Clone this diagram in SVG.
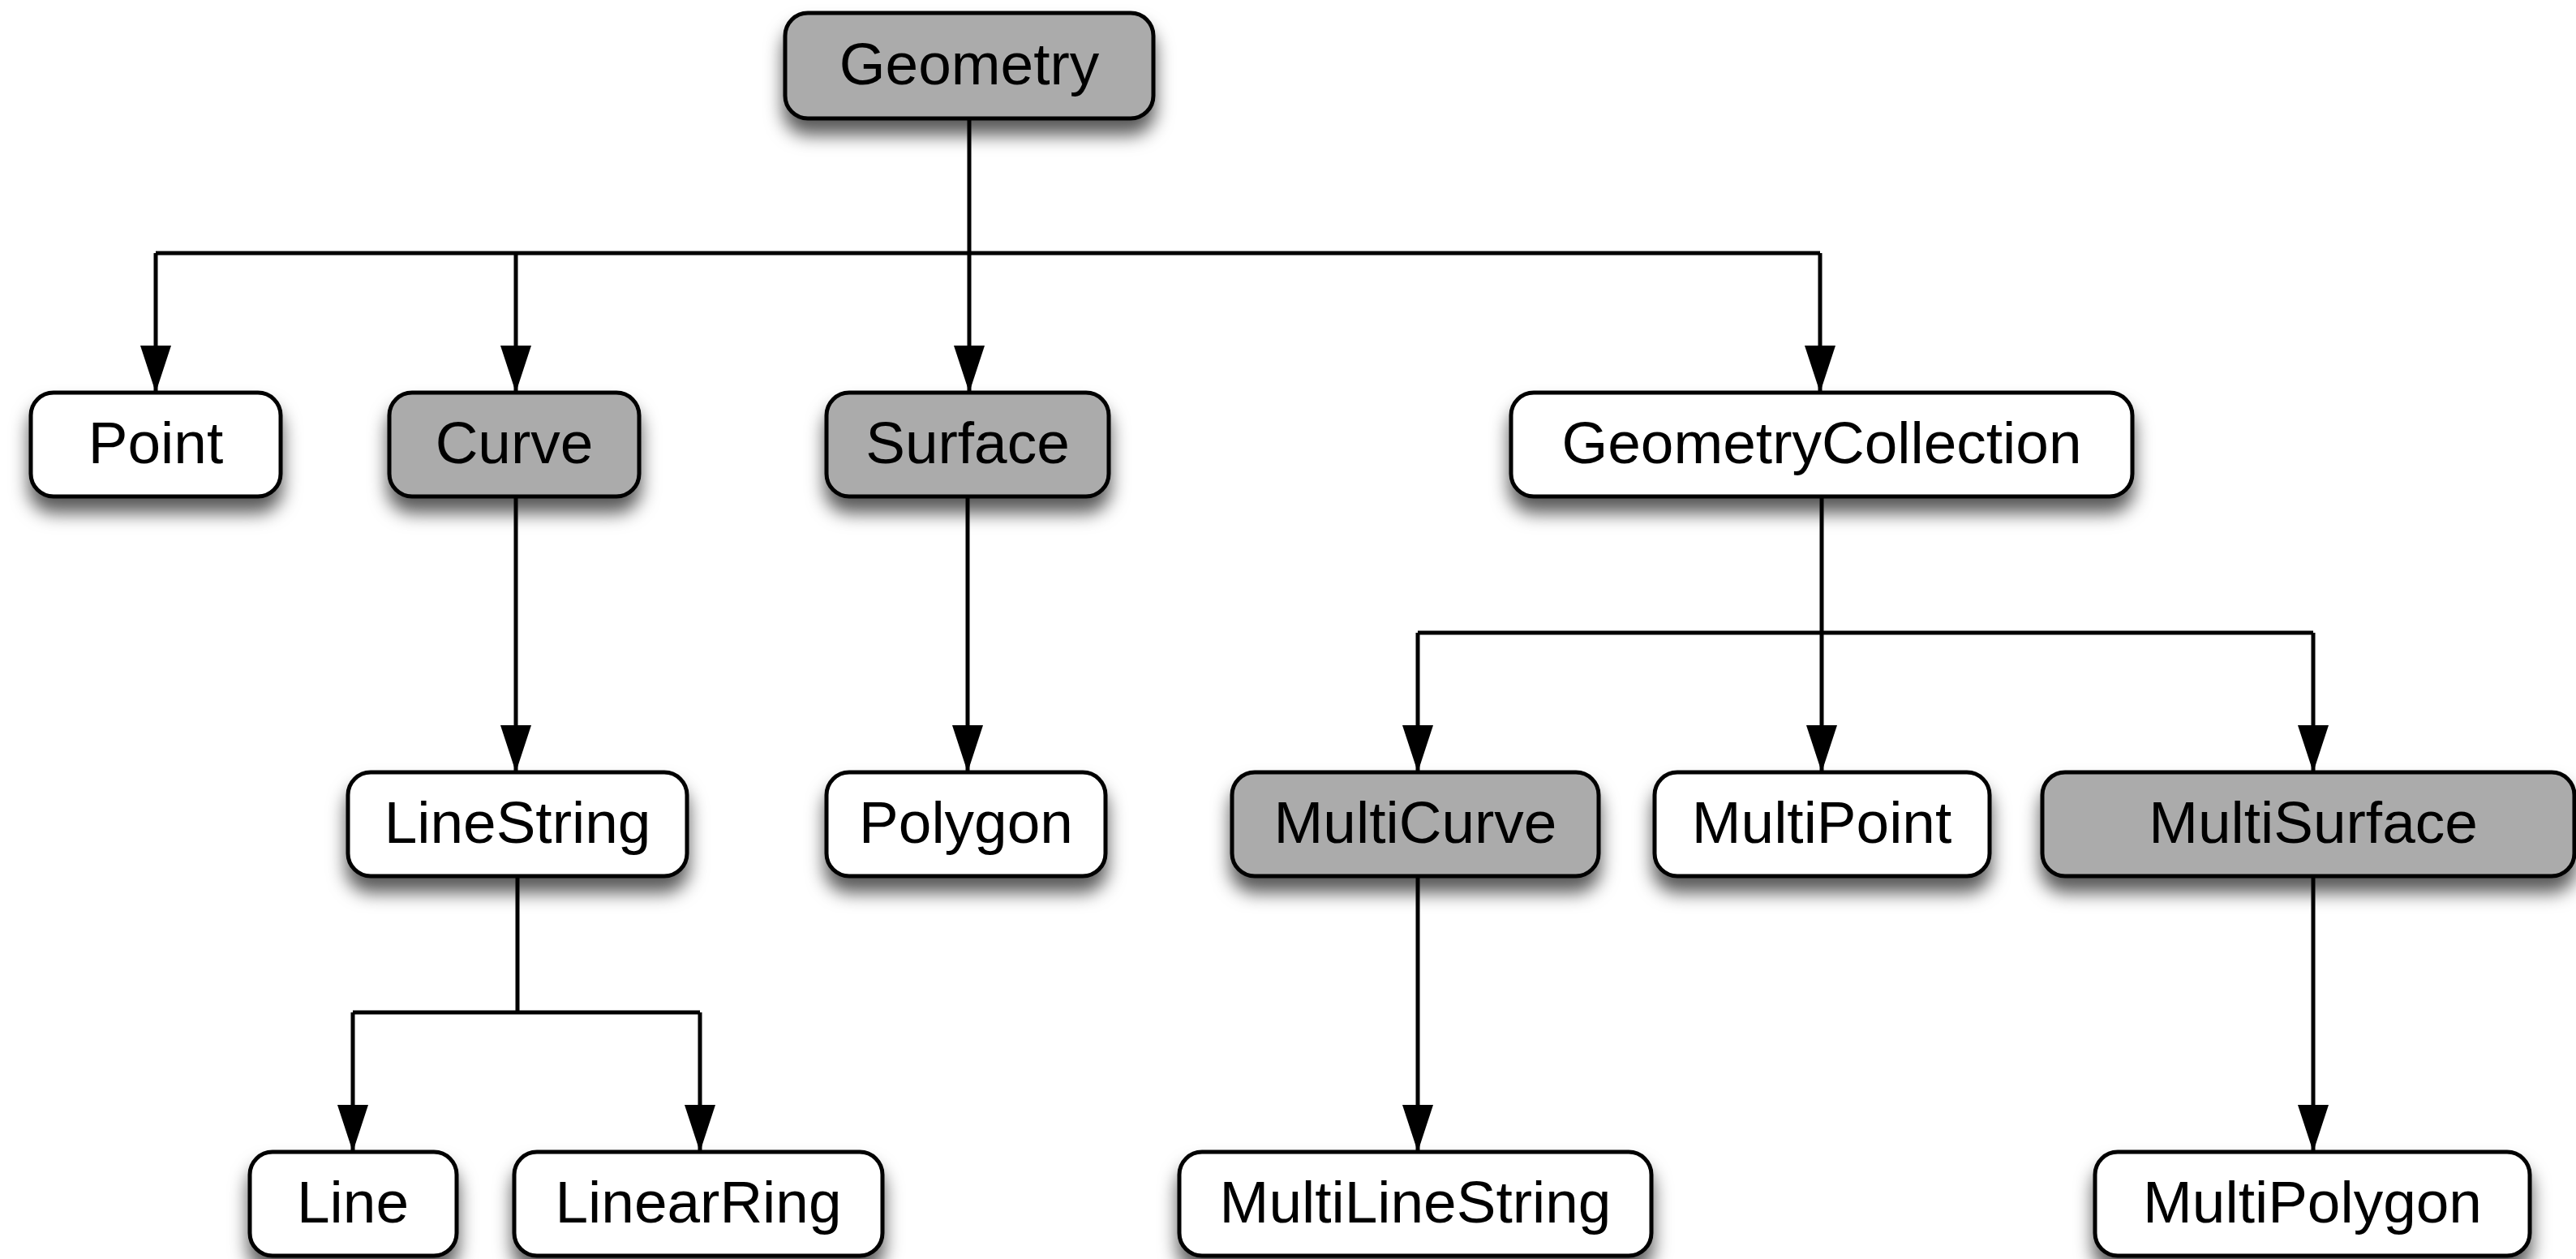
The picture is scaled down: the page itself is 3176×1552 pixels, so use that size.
<svg xmlns="http://www.w3.org/2000/svg" width="3176" height="1552" viewBox="0 0 3176 1552">
<style>
.node rect{stroke:#000;stroke-width:5;filter:url(#sh)}
.abs rect{fill:#ababab}
.con rect{fill:#fff}
.node text{font-family:"Liberation Sans",Arial,sans-serif;font-size:73px;fill:#000;text-anchor:middle}
.edges path{fill:none;stroke:#000;stroke-width:5}
.edges .arr{marker-end:url(#ah)}
</style>
<defs>
<filter id="sh" x="-20%" y="-30%" width="140%" height="200%">
<feDropShadow dx="0" dy="18" stdDeviation="11" flood-color="#000" flood-opacity="0.65"/>
</filter>
<marker id="ah" markerUnits="userSpaceOnUse" viewBox="0 0 58 38" refX="58" refY="19" markerWidth="58" markerHeight="38" orient="auto">
<path d="M0,0 L58,19 L0,38 z" fill="#000"/>
</marker>
</defs>
<rect width="3176" height="1552" fill="#fff"/>
<g class="edges">
<path d="M1195,146 V312"/>
<path d="M192,312 H2244"/>
<path class="arr" d="M192,312 V484"/>
<path class="arr" d="M636,312 V484"/>
<path class="arr" d="M1195,312 V484"/>
<path class="arr" d="M2244,312 V484"/>
<path class="arr" d="M636,612 V952"/>
<path class="arr" d="M1193,612 V952"/>
<path d="M2246,612 V780"/>
<path d="M1748,780 H2852"/>
<path class="arr" d="M1748,780 V952"/>
<path class="arr" d="M2246,780 V952"/>
<path class="arr" d="M2852,780 V952"/>
<path d="M638,1080 V1248"/>
<path d="M435,1248 H863"/>
<path class="arr" d="M435,1248 V1420"/>
<path class="arr" d="M863,1248 V1420"/>
<path class="arr" d="M1748,1080 V1420"/>
<path class="arr" d="M2852,1080 V1420"/>
</g>
<g id="Geometry" class="node abs"><rect x="968" y="16" width="454" height="130" rx="28"/><text x="1195" y="104">Geometry</text></g>
<g id="Point" class="node con"><rect x="38" y="484" width="308" height="128" rx="28"/><text x="192" y="571">Point</text></g>
<g id="Curve" class="node abs"><rect x="480" y="484" width="308" height="128" rx="28"/><text x="634" y="571">Curve</text></g>
<g id="Surface" class="node abs"><rect x="1019" y="484" width="348" height="128" rx="28"/><text x="1193" y="571">Surface</text></g>
<g id="GeometryCollection" class="node con"><rect x="1863" y="484" width="766" height="128" rx="28"/><text x="2246" y="571">GeometryCollection</text></g>
<g id="LineString" class="node con"><rect x="429" y="952" width="418" height="128" rx="28"/><text x="638" y="1039">LineString</text></g>
<g id="Polygon" class="node con"><rect x="1019" y="952" width="344" height="128" rx="28"/><text x="1191" y="1039">Polygon</text></g>
<g id="MultiCurve" class="node abs"><rect x="1519" y="952" width="452" height="128" rx="28"/><text x="1745" y="1039">MultiCurve</text></g>
<g id="MultiPoint" class="node con"><rect x="2040" y="952" width="413" height="128" rx="28"/><text x="2246" y="1039">MultiPoint</text></g>
<g id="MultiSurface" class="node abs"><rect x="2518" y="952" width="656" height="128" rx="28"/><text x="2852" y="1039">MultiSurface</text></g>
<g id="Line" class="node con"><rect x="308" y="1420" width="255" height="128" rx="28"/><text x="435" y="1507">Line</text></g>
<g id="LinearRing" class="node con"><rect x="634" y="1420" width="454" height="128" rx="28"/><text x="861" y="1507">LinearRing</text></g>
<g id="MultiLineString" class="node con"><rect x="1454" y="1420" width="582" height="128" rx="28"/><text x="1745" y="1507">MultiLineString</text></g>
<g id="MultiPolygon" class="node con"><rect x="2583" y="1420" width="536" height="128" rx="28"/><text x="2851" y="1507">MultiPolygon</text></g>
</svg>
